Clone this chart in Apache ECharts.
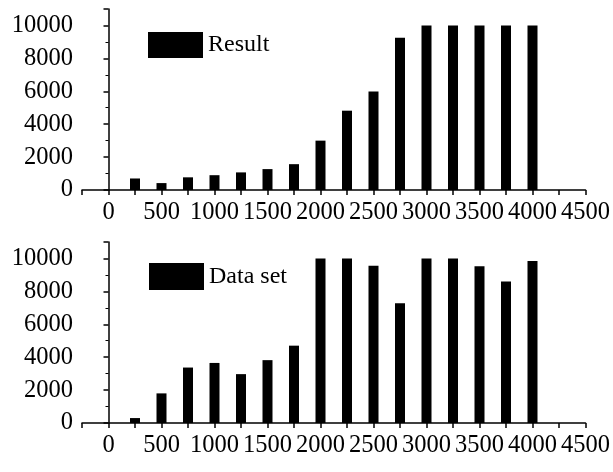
<!DOCTYPE html>
<html>
<head>
<meta charset="utf-8">
<script src="https://cdn.jsdelivr.net/npm/echarts@6/dist/echarts.min.js"></script>
<style>
html,body{margin:0;padding:0;background:#fff;}
#c{width:613px;height:472px;}
</style>
</head>
<body>
<div id="c"></div>
<script>
const positions = [250, 500, 750, 1000, 1250, 1500, 1750, 2000, 2250, 2500, 2750, 3000, 3250, 3500, 3750, 4000];
const resultValues = [700, 420, 770, 900, 1070, 1270, 1570, 3000, 4820, 5980, 9250, 10000, 10000, 10000, 10000, 10000];
const datasetValues = [300, 1800, 3370, 3650, 2970, 3820, 4700, 10000, 10000, 9560, 7280, 10000, 10000, 9530, 8600, 9840];
const yTicks = [0, 2000, 4000, 6000, 8000, 10000];
const xTicks = [0, 500, 1000, 1500, 2000, 2500, 3000, 3500, 4000, 4500];

const FONT = "'Liberation Serif', 'Times New Roman', serif";
const chart = echarts.init(document.getElementById('c'), null, {renderer: 'canvas'});

function xAxisCfg(gi) {
  return {
    type: 'value', gridIndex: gi, min: -250, max: 4500, interval: 250,
    axisLine: {show: true, onZero: false, lineStyle: {color: '#000', width: 1.5}},
    axisTick: {show: true, inside: false, length: 5, lineStyle: {color: '#000', width: 1.5}},
    axisLabel: {
      color: '#000', fontFamily: FONT, fontSize: 24.5, margin: 10,
      showMinLabel: true, showMaxLabel: true,
      formatter: v => xTicks.indexOf(v) >= 0 ? String(v) : ''
    },
    splitLine: {show: false}
  };
}
function yAxisCfg(gi) {
  return {
    type: 'value', gridIndex: gi, min: 0, max: 11000, interval: 2000,
    axisLine: {show: true, lineStyle: {color: '#000', width: 1.5}},
    axisTick: {show: true, inside: false, length: 5, lineStyle: {color: '#000', width: 1.5}},
    minorTick: {show: true, splitNumber: 2, length: 3, lineStyle: {color: '#000', width: 1}},
    axisLabel: {
      color: '#000', fontFamily: FONT, fontSize: 24.5, margin: 9,
      showMaxLabel: false,
      formatter: v => yTicks.indexOf(v) >= 0 ? String(v) : ''
    },
    splitLine: {show: false}
  };
}

chart.setOption({
  animation: false,
  backgroundColor: '#fff',
  grid: [
    {left: 82, right: 25, top: 9, height: 181},
    {left: 82, right: 25, top: 242, height: 181}
  ],
  xAxis: [xAxisCfg(0), xAxisCfg(1)],
  yAxis: [yAxisCfg(0), yAxisCfg(1)],
  legend: [
    {left: 148, top: 32, data: ['Result'], icon: 'rect', itemWidth: 55, itemHeight: 26, padding: 0,
     textStyle: {color: '#000', fontFamily: FONT, fontSize: 24}},
    {left: 149, top: 263, data: ['Data set'], icon: 'rect', itemWidth: 55, itemHeight: 27, padding: 0,
     textStyle: {color: '#000', fontFamily: FONT, fontSize: 24}}
  ],
  series: [
    {name: 'Result', type: 'bar', xAxisIndex: 0, yAxisIndex: 0, barWidth: 10,
     itemStyle: {color: '#000'}, data: positions.map((p, i) => [p, resultValues[i]])},
    {name: 'Data set', type: 'bar', xAxisIndex: 1, yAxisIndex: 1, barWidth: 10,
     itemStyle: {color: '#000'}, data: positions.map((p, i) => [p, datasetValues[i]])}
  ]
});
</script>
</body>
</html>
